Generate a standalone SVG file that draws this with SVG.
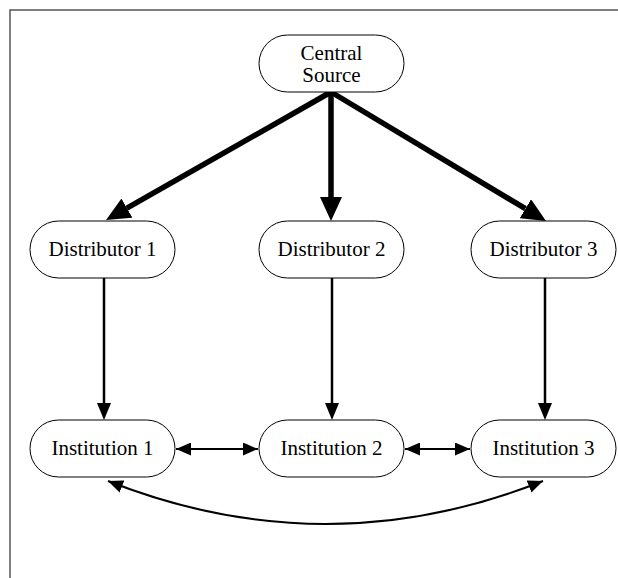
<svg xmlns="http://www.w3.org/2000/svg" width="618" height="578" viewBox="0 0 618 578">
  <style>
    .node { fill: #ffffff; stroke: #000000; stroke-width: 1; }
    .label { font-family: "Liberation Serif", "Times New Roman", serif; font-size: 21px; fill: #000000; text-anchor: middle; }
    .frame { fill: none; stroke: #555555; stroke-width: 1.5; }
    .heavy { fill: none; stroke: #000000; stroke-width: 5.5; }
    .medium { fill: none; stroke: #000000; stroke-width: 2.5; }
    .light { fill: none; stroke: #000000; stroke-width: 2; }
  </style>
  <defs>
    <!-- base of the head sits on the line end; tip points forward -->
    <marker id="headHeavy" markerUnits="userSpaceOnUse" markerWidth="24" markerHeight="22" refX="0" refY="11" orient="auto">
      <path d="M0,0 L24,11 L0,22 Z" fill="#000000"/>
    </marker>
    <marker id="headMedium" markerUnits="userSpaceOnUse" markerWidth="17" markerHeight="14" refX="0" refY="7" orient="auto">
      <path d="M0,0 L17,7 L0,14 Z" fill="#000000"/>
    </marker>
    <!-- tip sits on the line end -->
    <marker id="headLight" markerUnits="userSpaceOnUse" markerWidth="15" markerHeight="13" refX="15" refY="6.5" orient="auto-start-reverse">
      <path d="M0,0 L15,6.5 L0,13 Z" fill="#000000"/>
    </marker>
  </defs>

  <!-- outer frame (top and left edges) -->
  <path class="frame" d="M10,578 L10,10 L618,10"/>

  <g id="connectors">
    <!-- central source to distributors -->
    <line class="heavy" x1="331" y1="92" x2="126.9" y2="208.1" marker-end="url(#headHeavy)"/>
    <line class="heavy" x1="331" y1="92" x2="331" y2="197" marker-end="url(#headHeavy)"/>
    <line class="heavy" x1="331" y1="92" x2="525.4" y2="208.7" marker-end="url(#headHeavy)"/>
    <!-- distributors to institutions -->
    <line class="medium" x1="104" y1="278" x2="104" y2="403" marker-end="url(#headMedium)"/>
    <line class="medium" x1="332" y1="278" x2="332" y2="403" marker-end="url(#headMedium)"/>
    <line class="medium" x1="545" y1="278" x2="545" y2="403" marker-end="url(#headMedium)"/>
    <!-- links between institutions -->
    <line class="light" x1="176" y1="449" x2="258" y2="449" marker-start="url(#headLight)" marker-end="url(#headLight)"/>
    <line class="light" x1="405" y1="449" x2="470" y2="449" marker-start="url(#headLight)" marker-end="url(#headLight)"/>
    <path class="light" d="M108,481 Q326,567 543,481" marker-start="url(#headLight)" marker-end="url(#headLight)"/>
  </g>

  <g id="central-source">
    <rect class="node" x="259" y="35" width="145" height="57" rx="28.5"/>
    <text class="label" x="331.5" y="60">Central</text>
    <text class="label" x="331.5" y="82">Source</text>
  </g>

  <g id="distributor-1">
    <rect class="node" x="30" y="221" width="145" height="57" rx="28.5"/>
    <text class="label" x="102.5" y="256">Distributor 1</text>
  </g>
  <g id="distributor-2">
    <rect class="node" x="259" y="221" width="145" height="57" rx="28.5"/>
    <text class="label" x="331.5" y="256">Distributor 2</text>
  </g>
  <g id="distributor-3">
    <rect class="node" x="471" y="221" width="145" height="57" rx="28.5"/>
    <text class="label" x="543.5" y="256">Distributor 3</text>
  </g>

  <g id="institution-1">
    <rect class="node" x="30" y="420" width="145" height="57" rx="28.5"/>
    <text class="label" x="102.5" y="455">Institution 1</text>
  </g>
  <g id="institution-2">
    <rect class="node" x="259" y="420" width="145" height="57" rx="28.5"/>
    <text class="label" x="331.5" y="455">Institution 2</text>
  </g>
  <g id="institution-3">
    <rect class="node" x="471" y="420" width="145" height="57" rx="28.5"/>
    <text class="label" x="543.5" y="455">Institution 3</text>
  </g>
</svg>
